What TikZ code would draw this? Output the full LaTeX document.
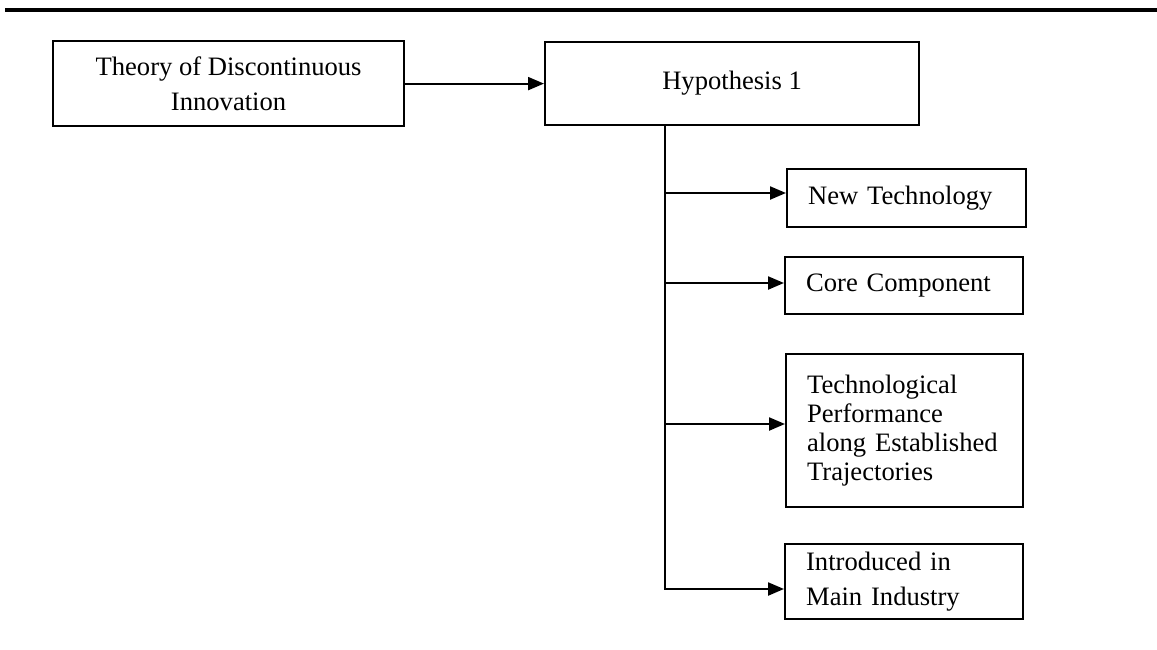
\documentclass[tikz,border=0pt]{standalone}
\usepackage{fontspec}
\setmainfont{Liberation Serif}
\usetikzlibrary{arrows.meta}
\begin{document}
\begin{tikzpicture}[x=0.5pt,y=-0.5pt,
  box/.style={draw, line width=1.1pt, inner sep=0pt, anchor=north west,
    font=\fontsize{13.3}{14.6}\selectfont},
  widebox/.style={font=\fontsize{13.3}{17.5}\selectfont},
  lbox/.style={box, align=left, inner xsep=10.5pt, text width=#1},
  arr/.style={line width=1.1pt, -{Triangle[length=8pt,width=6.5pt]}},
  rule/.style={line width=2pt}]
\useasboundingbox (0,0) rectangle (1157,649);

% header rule
\coordinate (ruleL) at (5,10);
\coordinate (ruleR) at (1157,10);
\draw[rule] (ruleL) -- (ruleR);

% boxes
\node[box, widebox, align=center, minimum width=175.5pt, minimum height=42.5pt]
  (theory) at (52,40) {Theory of Discontinuous\\Innovation};
\node[box, minimum width=187pt, minimum height=41.5pt] (hyp) at (544,41)
  {Hypothesis 1};
\node[lbox=98.5pt, minimum width=119.5pt, minimum height=29pt] (newtech) at (786,168)
  {New Technology};
\node[lbox=98pt, minimum width=119pt, minimum height=28.5pt] (core) at (784,256)
  {Core Component};
\node[lbox=97.5pt, minimum width=118.5pt, minimum height=76.5pt] (perf) at (785,353)
  {Technological\\Performance\\along Established\\Trajectories};
\node[lbox=98pt, widebox, minimum width=119pt, minimum height=37.5pt] (intro) at (784,543)
  {Introduced in\\Main Industry};

% connectors
\draw[arr] (theory.east) -- (hyp.west);

\coordinate (trunktop) at (665,124);
\coordinate (b1) at (665,193);
\coordinate (b2) at (665,283);
\coordinate (b3) at (665,424);
\coordinate (b4) at (665,589);

\draw[arr] (trunktop) -- (b4) -- (b4 -| intro.west);
\draw[arr] (b1) -- (b1 -| newtech.west);
\draw[arr] (b2) -- (b2 -| core.west);
\draw[arr] (b3) -- (b3 -| perf.west);
\end{tikzpicture}
\end{document}
